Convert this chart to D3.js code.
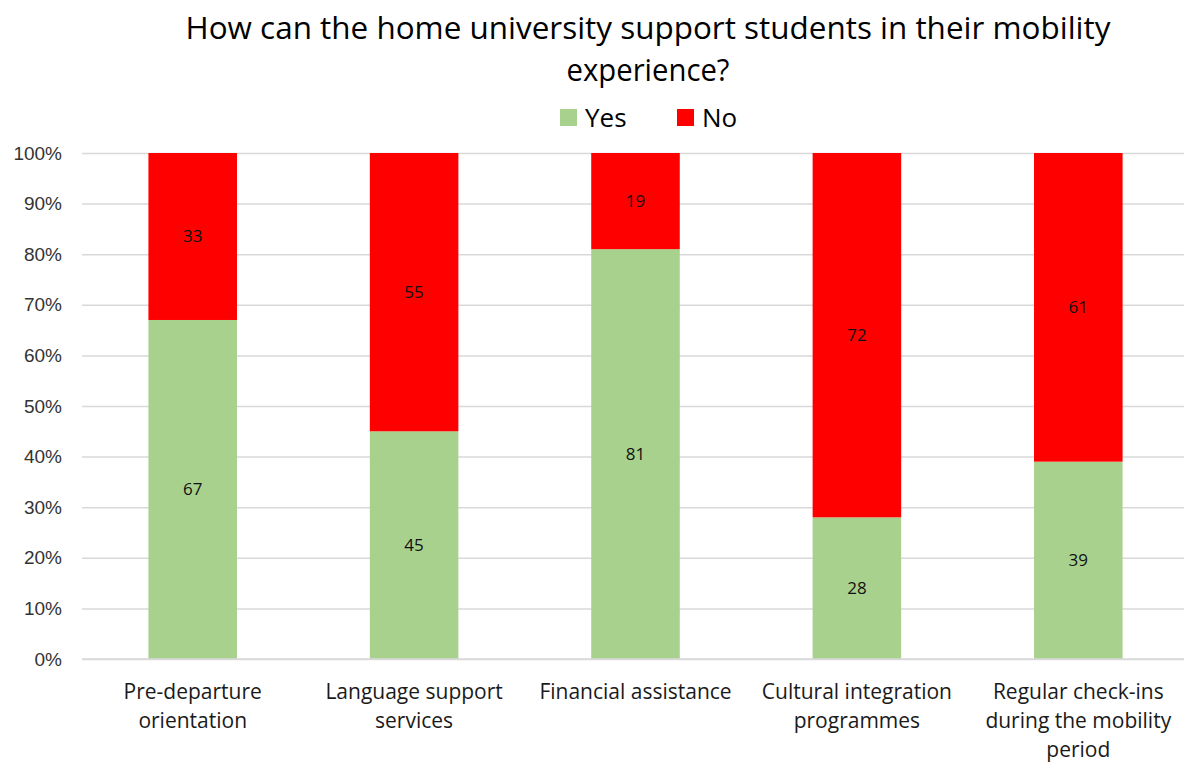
<!DOCTYPE html>
<html>
<head>
<meta charset="utf-8">
<script src="https://cdn.jsdelivr.net/npm/d3@7"></script>
<style>
  html, body { margin: 0; padding: 0; background: #fff; }
  svg { display: block; font-family: "Open Sans", "Noto Sans", sans-serif; }
</style>
</head>
<body>
<svg id="chart" width="1184" height="764"></svg>
<script>
// Survey categories (each entry is split into display lines)
const categories = [
  "Pre-departure orientation",
  "Language support services",
  "Financial assistance",
  "Cultural integration programmes",
  "Regular check-ins during the mobility period"
];
const categoryLines = [
  ["Pre-departure", "orientation"],
  ["Language support", "services"],
  ["Financial assistance"],
  ["Cultural integration", "programmes"],
  ["Regular check-ins", "during the mobility", "period"]
];
const yesValues = [67, 45, 81, 28, 39];
const noValues  = [33, 55, 19, 72, 61];
const seriesNames = ["Yes", "No"];
const seriesColors = ["#A9D18E", "#FF0000"];
const yTicks = [0, 0.1, 0.2, 0.3, 0.4, 0.5, 0.6, 0.7, 0.8, 0.9, 1.0];
const titleLines = ["How can the home university support students in their mobility", "experience?"];

const svg = d3.select("#chart");
const plot = { left: 82, right: 1189, top: 153, bottom: 659 };

// Build stacked, 100%-normalised rows
const rows = categories.map((c, i) => ({ cat: c, Yes: yesValues[i], No: noValues[i] }));
const stack = d3.stack().keys(seriesNames).offset(d3.stackOffsetExpand);
const layers = stack(rows);

const x = d3.scaleBand()
  .domain(categories)
  .range([plot.left, plot.right])
  .paddingInner(0.6)
  .paddingOuter(0.3);
const y = d3.scaleLinear().domain([0, 1]).range([plot.bottom, plot.top]);
const color = d3.scaleOrdinal().domain(seriesNames).range(seriesColors);

// Gridlines and y-axis labels
const yAxis = d3.axisLeft(y)
  .tickValues(yTicks)
  .tickFormat(d3.format(".0%"))
  .tickSize(-(plot.right - plot.left))
  .tickPadding(20);
const gy = svg.append("g").attr("transform", `translate(${plot.left},0)`).call(yAxis);
gy.select(".domain").remove();
gy.selectAll(".tick line").attr("stroke", "#D9D9D9").attr("stroke-width", 1.5);
gy.selectAll(".tick text")
  .attr("fill", "#333")
  .style("font-size", "19px");

// Bars
const gLayers = svg.append("g").selectAll("g")
  .data(layers).join("g")
  .attr("fill", d => color(d.key));
gLayers.selectAll("rect")
  .data(d => d.map(s => ({ s, key: d.key })))
  .join("rect")
  .attr("x", d => x(d.s.data.cat))
  .attr("width", x.bandwidth())
  .attr("y", d => y(d.s[1]))
  .attr("height", d => y(d.s[0]) - y(d.s[1]));

// Value labels in the middle of each segment
gLayers.selectAll("text")
  .data(d => d.map(s => ({ s, key: d.key })))
  .join("text")
  .attr("x", d => x(d.s.data.cat) + x.bandwidth() / 2)
  .attr("y", d => (y(d.s[0]) + y(d.s[1])) / 2)
  .attr("dy", "0.35em")
  .attr("text-anchor", "middle")
  .attr("fill", "#111")
  .style("font-size", "17px")
  .text(d => d.s.data[d.key]);

// Baseline (0%) drawn over the bars
svg.append("line")
  .attr("x1", plot.left).attr("x2", plot.right)
  .attr("y1", y(0)).attr("y2", y(0))
  .attr("stroke", "#D9D9D9").attr("stroke-width", 1.5);

// Category labels
const gx = svg.append("g");
categories.forEach((c, i) => {
  const t = gx.append("text")
    .attr("x", x(c) + x.bandwidth() / 2)
    .attr("y", 699)
    .attr("text-anchor", "middle")
    .attr("fill", "#1a1a1a")
    .style("font-size", "21px");
  categoryLines[i].forEach((line, j) => {
    t.append("tspan")
      .attr("x", x(c) + x.bandwidth() / 2)
      .attr("dy", j === 0 ? 0 : 29)
      .text(line);
  });
});

// Title
const title = svg.append("g");
title.append("text")
  .attr("x", 648).attr("y", 39)
  .attr("text-anchor", "middle")
  .attr("fill", "#000")
  .attr("textLength", 925)
  .attr("lengthAdjust", "spacingAndGlyphs")
  .style("font-size", "31px")
  .text(titleLines[0]);
title.append("text")
  .attr("x", 648).attr("y", 81)
  .attr("text-anchor", "middle")
  .attr("fill", "#000")
  .attr("textLength", 163)
  .attr("lengthAdjust", "spacingAndGlyphs")
  .style("font-size", "31px")
  .text(titleLines[1]);

// Legend
const legend = svg.append("g");
const legendX = [560, 677];
seriesNames.forEach((name, i) => {
  legend.append("rect")
    .attr("x", legendX[i]).attr("y", 109)
    .attr("width", 17).attr("height", 17)
    .attr("fill", color(name));
  legend.append("text")
    .attr("x", legendX[i] + 25).attr("y", 118)
    .attr("dy", "0.35em")
    .attr("fill", "#000")
    .style("font-size", "26px")
    .text(name);
});
</script>
</body>
</html>
